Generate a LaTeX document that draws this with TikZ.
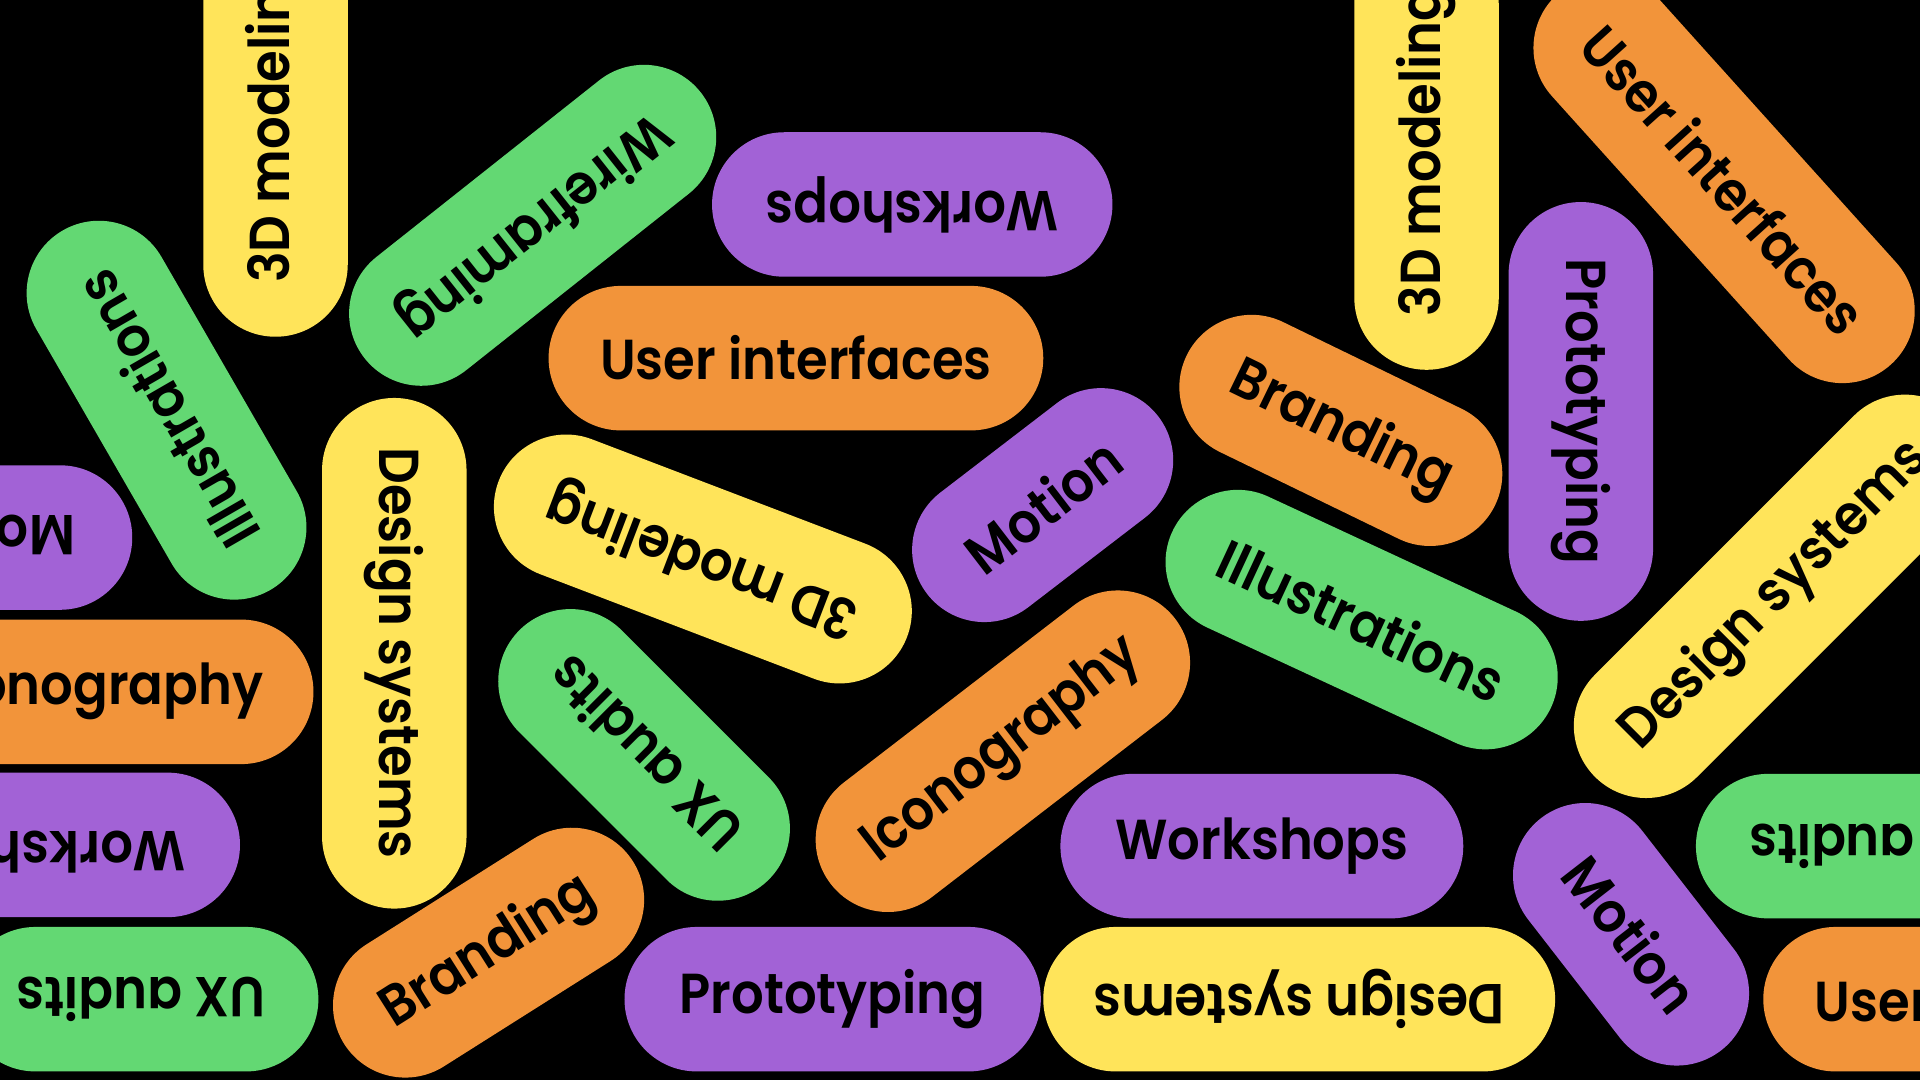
\documentclass[tikz,border=0pt]{standalone}
\usepackage{fontspec}
\setmainfont{Poppins}[UprightFont=* SemiBold, FakeStretch=0.91]
\definecolor{porg}{HTML}{F2943A}
\definecolor{pylw}{HTML}{FFE45A}
\definecolor{pprp}{HTML}{A262D6}
\definecolor{pgrn}{HTML}{63D873}
\newcommand{\pillfont}{\fontsize{46}{46}\selectfont}
\tikzset{
  pill/.style={rectangle, rounded corners=59pt, minimum height=118pt, inner sep=0pt, text=black, font=\pillfont},
  orgpill/.style={pill, fill=porg},
  ylwpill/.style={pill, fill=pylw},
  prppill/.style={pill, fill=pprp},
  grnpill/.style={pill, fill=pgrn},
}
\begin{document}
\begin{tikzpicture}[x=1pt,y=-1pt]
\useasboundingbox (0,0) rectangle (1568,882);
\fill[black] (0,0) rectangle (1568,882);
\clip (0,0) rectangle (1568,882);
\node[ylwpill, minimum width=357pt, rotate=90] (a) at (225,96.5) {3D modeling};
\node[grnpill, minimum width=350pt, rotate=218.4] (b) at (435,184) {Wireframing};
\node[prppill, minimum width=327pt, rotate=180] (c) at (745,167) {Workshops};
\node[orgpill, minimum width=404pt] (d) at (650,292.5) {User interfaces};
\node[grnpill, minimum width=339pt, rotate=120] (e) at (136,335) {Illustrations};
\node[prppill, minimum width=240pt, rotate=180] (f) at (-12,439) {Motion};
\node[orgpill, minimum width=355pt] (g) at (78.5,565) {Iconography};
\node[prppill, minimum width=328pt, rotate=180] (h) at (32,690) {Workshops};
\node[grnpill, minimum width=290pt, rotate=180] (i) at (115,816) {UX audits};
\node[ylwpill, minimum width=417pt, rotate=-90] (j) at (322,533.5) {Design systems};
\node[ylwpill, minimum width=357pt, rotate=159.1] (k) at (574,456.5) {3D modeling};
\node[grnpill, minimum width=288pt, rotate=135] (l) at (526,616.5) {UX audits};
\node[orgpill, minimum width=279pt, rotate=32.3] (m) at (399,778) {Branding};
\node[prppill, minimum width=340pt] (n) at (680,816) {Prototyping};
\node[prppill, minimum width=238pt, rotate=37.5] (o) at (851.5,412.5) {Motion};
\node[orgpill, minimum width=355pt, rotate=37.6] (p) at (819,613.5) {Iconography};
\node[prppill, minimum width=329pt] (q) at (1030.5,691) {Workshops};
\node[ylwpill, minimum width=418pt, rotate=180] (r) at (1061,816) {Design systems};
\node[orgpill, minimum width=280pt, rotate=-25.9] (s) at (1095,351.5) {Branding};
\node[grnpill, minimum width=341pt, rotate=-24.9] (t) at (1112,506) {Illustrations};
\node[ylwpill, minimum width=357pt, rotate=90] (u) at (1165,123.5) {3D modeling};
\node[prppill, minimum width=342pt, rotate=-90] (v) at (1291,336) {Prototyping};
\node[orgpill, minimum width=407pt, rotate=-48] (w) at (1408,146.5) {User interfaces};
\node[ylwpill, minimum width=417pt, rotate=45] (x) at (1450,487) {Design systems};
\node[grnpill, minimum width=290pt, rotate=180] (y) at (1530,691) {UX audits};
\node[prppill, minimum width=240pt, rotate=-52.2] (z) at (1332,763) {Motion};
\node[orgpill, minimum width=404pt] (aa) at (1642,816) {User interfaces};
\end{tikzpicture}
\end{document}
